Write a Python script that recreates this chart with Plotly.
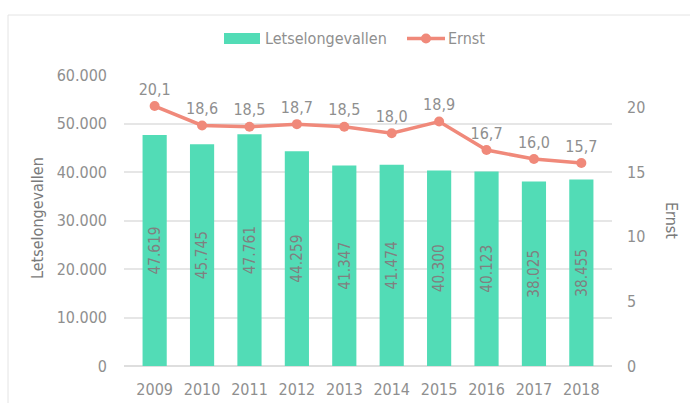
import plotly.graph_objects as go

years = ["2009", "2010", "2011", "2012", "2013", "2014", "2015", "2016", "2017", "2018"]
ongevallen = [47619, 45745, 47761, 44259, 41347, 41474, 40300, 40123, 38025, 38455]
ernst = [20.1, 18.6, 18.5, 18.7, 18.5, 18.0, 18.9, 16.7, 16.0, 15.7]
left_ticks = [0, 10000, 20000, 30000, 40000, 50000, 60000]
right_ticks = [0, 5, 10, 15, 20]

BAR = "#52dcb6"
LINE = "#f0897a"
TXT = "#8f8f8f"
TITLE = "#7a7a7a"
FONT = "DejaVu Sans Condensed, DejaVu Sans, sans-serif"
FS = 16

# plot area in pixels
L, R, T, B = 124, 612, 75, 366
W, H = 690, 403
PW, PH = R - L, B - T


def px(x):
    return (x - L) / PW


def py(y):
    return (B - y) / PH


def nl_thousands(v):
    return f"{v:,}".replace(",", ".")


def nl_decimal(v):
    return f"{v:.1f}".replace(".", ",")


fig = go.Figure()
fig.add_trace(go.Bar(
    x=years, y=ongevallen, name="Letselongevallen",
    marker=dict(color=BAR, line=dict(width=0)),
    text=[nl_thousands(v) for v in ongevallen],
    textposition="inside", insidetextanchor="middle", textangle=-90,
    textfont=dict(color="#808080", size=FS, family=FONT),
    cliponaxis=False, showlegend=False,
))
fig.add_trace(go.Scatter(
    x=years, y=ernst, name="Ernst", yaxis="y2",
    mode="lines+markers+text",
    line=dict(color=LINE, width=3.5),
    marker=dict(color=LINE, size=10),
    text=[nl_decimal(v) for v in ernst],
    textposition="top center",
    textfont=dict(color=TXT, size=FS, family=FONT),
    cliponaxis=False, showlegend=False,
))

# legend drawn by hand: wide swatch for the bars, line with dot for Ernst
legend_y = 38.5
shapes = [
    dict(type="rect", xref="paper", yref="paper",
         x0=px(8), x1=px(W + 20), y0=py(H + 20), y1=py(15),
         line=dict(color="#e4e4e4", width=1), layer="below"),
    dict(type="rect", xref="paper", yref="paper",
         x0=px(224), x1=px(260), y0=py(44), y1=py(33),
         fillcolor=BAR, line=dict(width=0)),
    dict(type="line", xref="paper", yref="paper",
         x0=px(407), x1=px(445), y0=py(legend_y), y1=py(legend_y),
         line=dict(color=LINE, width=3.5)),
    dict(type="circle", xref="paper", yref="paper",
         x0=px(421), x1=px(431), y0=py(legend_y + 5), y1=py(legend_y - 5),
         fillcolor=LINE, line=dict(width=0)),
]
annotations = [
    dict(text="Letselongevallen", xref="paper", yref="paper", x=px(263), y=py(legend_y),
         xanchor="left", yanchor="middle", showarrow=False,
         font=dict(size=FS, color=TXT, family=FONT)),
    dict(text="Ernst", xref="paper", yref="paper", x=px(446), y=py(legend_y),
         xanchor="left", yanchor="middle", showarrow=False,
         font=dict(size=FS, color=TXT, family=FONT)),
    dict(text="Letselongevallen", xref="paper", yref="paper", x=px(37), y=py(218),
         xanchor="center", yanchor="middle", textangle=-90, showarrow=False,
         font=dict(size=FS, color=TITLE, family=FONT)),
    dict(text="Ernst", xref="paper", yref="paper", x=px(672), y=py(220),
         xanchor="center", yanchor="middle", textangle=90, showarrow=False,
         font=dict(size=FS, color=TITLE, family=FONT)),
]

fig.update_layout(
    width=W, height=H,
    margin=dict(l=L, r=W - R, t=T, b=H - B, autoexpand=False),
    paper_bgcolor="white", plot_bgcolor="white",
    font=dict(family=FONT, color=TXT, size=FS),
    bargap=0.49,
    showlegend=False,
    xaxis=dict(tickmode="array", tickvals=years, ticktext=years, automargin=False,
               showgrid=False, showline=False, ticks="", ticklabelstandoff=12,
               tickfont=dict(size=FS, color=TXT)),
    yaxis=dict(range=[0, 60000], tickvals=left_ticks, automargin=False,
               ticktext=[nl_thousands(v) for v in left_ticks],
               showgrid=True, gridcolor="#e6e6e6", gridwidth=1.5, zeroline=True,
               zerolinecolor="#dedede", zerolinewidth=1.5,
               ticks="", ticklabelstandoff=16, tickfont=dict(size=FS, color=TXT)),
    yaxis2=dict(range=[0, 22.5], tickvals=right_ticks, overlaying="y", side="right",
                automargin=False,
                showgrid=False, zeroline=False, ticks="", ticklabelstandoff=14,
                tickfont=dict(size=FS, color=TXT)),
    shapes=shapes,
    annotations=annotations,
)

fig.write_html("out.html")
